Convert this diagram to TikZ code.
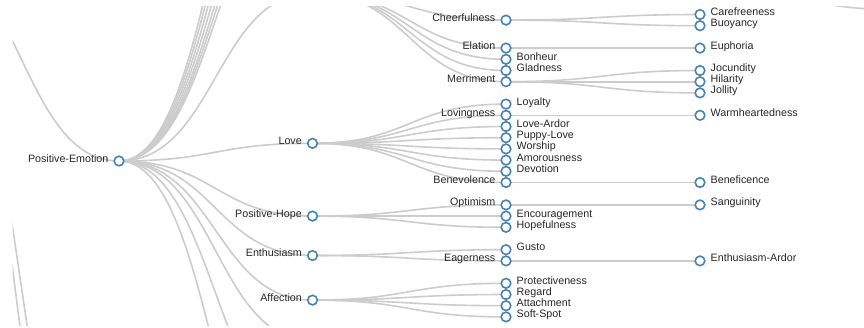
\documentclass[tikz,border=0pt]{standalone}
\usepackage{fontspec}
\setmainfont{Liberation Sans}
\usetikzlibrary{backgrounds,calc}
\definecolor{steel}{HTML}{4682B4}
\definecolor{linkgray}{HTML}{CCCCCC}

\begin{document}
\begin{tikzpicture}
  [x=1pt,y=-1pt,
   every node/.style={font=\fontsize{10.7}{12}\selectfont},
   dot/.style={circle,draw=steel,fill=white,line width=1.6pt,
               inner sep=0,outer sep=0,minimum size=9.6pt},
   txtr/.style={anchor=base west,inner sep=0,xshift=10.5pt,yshift=-1pt,text=black!85},
   txtl/.style={anchor=base east,inner sep=0,xshift=-10.5pt,yshift=-1pt,text=black!85},
   link/.style={draw=linkgray,line width=1.6pt,
     to path={let \p1=(\tikztostart), \p2=(\tikztotarget) in
       .. controls ({(\x1+\x2)/2},\y1) and ({(\x1+\x2)/2},\y2) .. (\tikztotarget)}}]
  \useasboundingbox (0,0) rectangle (864,327);
  % nodes outside the visible window
  \coordinate (root) at (-75,-40);
  \coordinate (far1) at (119,622);
  \coordinate (far2) at (119,725);
  \coordinate (joy) at (312.5,-7);
  \coordinate (up1) at (312.5,-122);
  \coordinate (up2) at (312.5,-139);
  \coordinate (up3) at (312.5,-157);
  \coordinate (up4) at (312.5,-181);
  \coordinate (up5) at (312.5,-207);
  \coordinate (up6) at (312.5,-235);
  \coordinate (up7) at (312.5,-262);
  \coordinate (dn1) at (312.5,341);
  \coordinate (dn2) at (312.5,426);
  \coordinate (dn3) at (312.5,551);
  \coordinate (hid4) at (700,-15);
  \coordinate (hid5) at (894,9.5);
  % depth 1
  \node[dot] (pe) at (119,161) {};
  \node[txtl] (pe-t) at (pe) {Positive-Emotion};
  % depth 2
  \node[dot] (love) at (312.5,143.3) {};
  \node[txtl] (love-t) at (love) {Love};
  \node[dot] (phope) at (312.5,216.1) {};
  \node[txtl] (phope-t) at (phope) {Positive-Hope};
  \node[dot] (enth) at (312.5,255.5) {};
  \node[txtl] (enth-t) at (enth) {Enthusiasm};
  \node[dot] (affec) at (312.5,300.1) {};
  \node[txtl] (affec-t) at (affec) {Affection};
  % depth 3
  \node[dot] (cheer) at (506,20.1) {};
  \node[txtl] (cheer-t) at (cheer) {Cheerfulness};
  \node[dot] (elat) at (506,48.1) {};
  \node[txtl] (elat-t) at (elat) {Elation};
  \node[dot] (bonh) at (506,59.3) {};
  \node[txtr] (bonh-t) at (bonh) {Bonheur};
  \node[dot] (glad) at (506,70.5) {};
  \node[txtr] (glad-t) at (glad) {Gladness};
  \node[dot] (merr) at (506,81.7) {};
  \node[txtl] (merr-t) at (merr) {Merriment};
  \node[dot] (loyal) at (506,104.1) {};
  \node[txtr] (loyal-t) at (loyal) {Loyalty};
  \node[dot] (lovng) at (506,115.3) {};
  \node[txtl] (lovng-t) at (lovng) {Lovingness};
  \node[dot] (lardor) at (506,126.5) {};
  \node[txtr] (lardor-t) at (lardor) {Love-Ardor};
  \node[dot] (puppy) at (506,137.7) {};
  \node[txtr] (puppy-t) at (puppy) {Puppy-Love};
  \node[dot] (worsh) at (506,148.9) {};
  \node[txtr] (worsh-t) at (worsh) {Worship};
  \node[dot] (amor) at (506,160.1) {};
  \node[txtr] (amor-t) at (amor) {Amorousness};
  \node[dot] (devot) at (506,171.3) {};
  \node[txtr] (devot-t) at (devot) {Devotion};
  \node[dot] (benev) at (506,182.5) {};
  \node[txtl] (benev-t) at (benev) {Benevolence};
  \node[dot] (optim) at (506,204.9) {};
  \node[txtl] (optim-t) at (optim) {Optimism};
  \node[dot] (encour) at (506,216.1) {};
  \node[txtr] (encour-t) at (encour) {Encouragement};
  \node[dot] (hopef) at (506,227.3) {};
  \node[txtr] (hopef-t) at (hopef) {Hopefulness};
  \node[dot] (gusto) at (506,249.7) {};
  \node[txtr] (gusto-t) at (gusto) {Gusto};
  \node[dot] (eager) at (506,260.9) {};
  \node[txtl] (eager-t) at (eager) {Eagerness};
  \node[dot] (prot) at (506,283.3) {};
  \node[txtr] (prot-t) at (prot) {Protectiveness};
  \node[dot] (regard) at (506,294.5) {};
  \node[txtr] (regard-t) at (regard) {Regard};
  \node[dot] (attach) at (506,305.7) {};
  \node[txtr] (attach-t) at (attach) {Attachment};
  \node[dot] (soft) at (506,316.9) {};
  \node[txtr] (soft-t) at (soft) {Soft-Spot};
  % depth 4
  \node[dot] (caref) at (700,14.5) {};
  \node[txtr] (caref-t) at (caref) {Carefreeness};
  \node[dot] (buoy) at (700,25.7) {};
  \node[txtr] (buoy-t) at (buoy) {Buoyancy};
  \node[dot] (euph) at (700,48.1) {};
  \node[txtr] (euph-t) at (euph) {Euphoria};
  \node[dot] (jocu) at (700,70.5) {};
  \node[txtr] (jocu-t) at (jocu) {Jocundity};
  \node[dot] (hilar) at (700,81.7) {};
  \node[txtr] (hilar-t) at (hilar) {Hilarity};
  \node[dot] (jolly) at (700,92.9) {};
  \node[txtr] (jolly-t) at (jolly) {Jollity};
  \node[dot] (warm) at (700,115.3) {};
  \node[txtr] (warm-t) at (warm) {Warmheartedness};
  \node[dot] (benef) at (700,182.5) {};
  \node[txtr] (benef-t) at (benef) {Beneficence};
  \node[dot] (sang) at (700,204.9) {};
  \node[txtr] (sang-t) at (sang) {Sanguinity};
  \node[dot] (eardor) at (700,260.9) {};
  \node[txtr] (eardor-t) at (eardor) {Enthusiasm-Ardor};
  % links, under the nodes and cut to the window
  \begin{scope}[on background layer]
  \clip (12.5,6.5) rectangle (864,325);
  \draw[link] (root) to (pe.center);
  \draw[link] (root) to (far1);
  \draw[link] (root) to (far2);
  \draw[link] (pe.center) to (up1);
  \draw[link] (pe.center) to (up2);
  \draw[link] (pe.center) to (up3);
  \draw[link] (pe.center) to (up4);
  \draw[link] (pe.center) to (up5);
  \draw[link] (pe.center) to (up6);
  \draw[link] (pe.center) to (up7);
  \draw[link] (pe.center) to (joy);
  \draw[link] (pe.center) to (love.center);
  \draw[link] (pe.center) to (phope.center);
  \draw[link] (pe.center) to (enth.center);
  \draw[link] (pe.center) to (affec.center);
  \draw[link] (pe.center) to (dn1);
  \draw[link] (pe.center) to (dn2);
  \draw[link] (pe.center) to (dn3);
  \draw[link] (joy) to (cheer.center);
  \draw[link] (joy) to (elat.center);
  \draw[link] (joy) to (bonh.center);
  \draw[link] (joy) to (glad.center);
  \draw[link] (joy) to (merr.center);
  \draw[link] (love.center) to (loyal.center);
  \draw[link] (love.center) to (lovng.center);
  \draw[link] (love.center) to (lardor.center);
  \draw[link] (love.center) to (puppy.center);
  \draw[link] (love.center) to (worsh.center);
  \draw[link] (love.center) to (amor.center);
  \draw[link] (love.center) to (devot.center);
  \draw[link] (love.center) to (benev.center);
  \draw[link] (phope.center) to (optim.center);
  \draw[link] (phope.center) to (encour.center);
  \draw[link] (phope.center) to (hopef.center);
  \draw[link] (enth.center) to (gusto.center);
  \draw[link] (enth.center) to (eager.center);
  \draw[link] (affec.center) to (prot.center);
  \draw[link] (affec.center) to (regard.center);
  \draw[link] (affec.center) to (attach.center);
  \draw[link] (affec.center) to (soft.center);
  \draw[link] (cheer.center) to (caref.center);
  \draw[link] (cheer.center) to (buoy.center);
  \draw[link] (elat.center) to (euph.center);
  \draw[link] (merr.center) to (jocu.center);
  \draw[link] (merr.center) to (hilar.center);
  \draw[link] (merr.center) to (jolly.center);
  \draw[link] (lovng.center) to (warm.center);
  \draw[link] (benev.center) to (benef.center);
  \draw[link] (optim.center) to (sang.center);
  \draw[link] (eager.center) to (eardor.center);
  \draw[link] (hid4) to (hid5);
  \end{scope}
\end{tikzpicture}
\end{document}
